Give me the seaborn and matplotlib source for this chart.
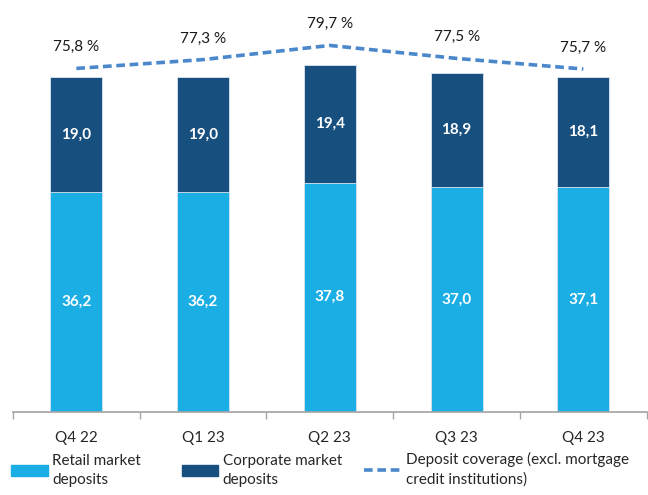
import numpy as np
import pandas as pd
import matplotlib
matplotlib.use("Agg")
import matplotlib.pyplot as plt
import seaborn as sns
from matplotlib.patches import Patch
from matplotlib.lines import Line2D

# data
quarters = ["Q4 22", "Q1 23", "Q2 23", "Q3 23", "Q4 23"]
retail = [36.2, 36.2, 37.8, 37.0, 37.1]
corporate = [19.0, 19.0, 19.4, 18.9, 18.1]
coverage = [75.8, 77.3, 79.7, 77.5, 75.7]

retail_col = "#1BAEE4"
corp_col = "#174F7F"
line_col = "#4A88CB"

sns.set_theme(style="white")
plt.rcParams["font.family"] = ["Lato", "DejaVu Sans"]

df = pd.DataFrame({"quarter": quarters, "retail": retail, "corporate": corporate,
                   "coverage": coverage})
df["total"] = df["retail"] + df["corporate"]

fig = plt.figure(figsize=(6.48, 4.95), dpi=100)
ax = fig.add_axes([0.02, 0.168, 0.978, 0.832])

sns.barplot(data=df, x="quarter", y="total", color=corp_col, width=0.41,
            edgecolor="#DDE6EF", linewidth=0.6, saturation=1, ax=ax)
sns.barplot(data=df, x="quarter", y="retail", color=retail_col, width=0.41,
            edgecolor="#DDE6EF", linewidth=0.6, saturation=1, ax=ax)

for i, (r, c) in enumerate(zip(retail, corporate)):
    ax.text(i, r / 2, f"{r:.1f}".replace(".", ","), ha="center", va="center",
            color="white", fontsize=11, fontweight="bold")
    ax.text(i, r + c / 2, f"{c:.1f}".replace(".", ","), ha="center", va="center",
            color="white", fontsize=11, fontweight="bold")

ax.set_ylim(0, 67.9)
ax.set_xlim(-0.5, 4.5)
ax.set_yticks([])
ax.set_xlabel("")
ax.set_ylabel("")
for s in ["top", "right", "left"]:
    ax.spines[s].set_visible(False)
ax.spines["bottom"].set_color("#A6A6A6")
ax.set_xticks(np.arange(5))
ax.set_xticklabels(quarters, fontsize=11)
ax.set_xticks(np.arange(-0.5, 5, 1), minor=True)
ax.tick_params(axis="x", which="major", length=0, pad=14)
ax.tick_params(axis="x", which="minor", length=5, color="#A6A6A6", direction="out",
               bottom=True)

ax2 = ax.twinx()
sns.lineplot(x=np.arange(5), y=coverage, color=line_col, linewidth=2.6,
             linestyle=(0, (2.4, 1.3)), ax=ax2)
ax2.set_ylim(17.6, 87.4)
ax2.set_yticks([])
for s in ax2.spines.values():
    s.set_visible(False)
for i, v in enumerate(coverage):
    ax2.text(i, v + 2.4, f"{v:.1f} %".replace(".", ","), ha="center", va="bottom",
             fontsize=11, color="#1A1A1A")

# legend: one per entry so the spacing can follow the original
handles = [Patch(color=retail_col), Patch(color=corp_col),
           Line2D([0], [0], color=line_col, linewidth=2.6, linestyle=(0, (2.4, 1.3)))]
labels = ["Retail market\ndeposits", "Corporate market\ndeposits",
          "Deposit coverage (excl. mortgage\ncredit institutions)"]
xpos = [-0.004, 0.259, 0.541]
for h, l, x in zip(handles, labels, xpos):
    leg = fig.legend([h], [l], loc="lower left", bbox_to_anchor=(x, -0.012),
                     frameon=False, fontsize=11, handlelength=2.4, handleheight=0.75,
                     handletextpad=0.3)
    for t in leg.get_texts():
        t.set_linespacing(1.5)

fig.savefig("out.png", dpi=100)
